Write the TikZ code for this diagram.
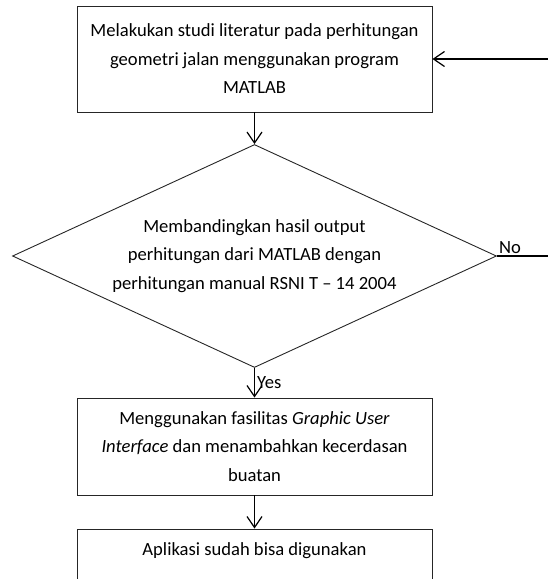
\documentclass[tikz,border=0pt]{standalone}
\usepackage{fontspec}
\setmainfont{Carlito}
\usetikzlibrary{
	shapes.geometric,   %菱形
	positioning,
	arrows.meta         %箭头
}
\tikzset{
	every picture/.style={
		>={Straight Barb[length=11pt,width=15pt,line width=1.2pt]},
		x=1pt,y=-1pt
}}
\tikzset{prosesbox/.style={rectangle,
		draw=black!85,
		line width=0.9pt,
		minimum width=355pt,
		align=center,
		font=\fontsize{18.6}{28.5}\selectfont}}
\tikzset{keputusan/.style={diamond,
		draw=black!85,
		line width=0.9pt,
		inner sep=0pt,
		aspect=2.17,
		minimum width=484pt,
		minimum height=223pt,
		align=center,
		font=\fontsize{18.6}{28.5}\selectfont}}
\tikzset{panah/.style={->,line width=1.2pt}}

\begin{document}
\begin{tikzpicture}
	\useasboundingbox (0,0) rectangle (547,579);
	\node (node001) at (254.5,59) [prosesbox,minimum height=106pt] {Melakukan studi literatur pada perhitungan\\geometri jalan menggunakan program\\MATLAB};
	\node (node002) at (254.5,256) [keputusan] {Membandingkan hasil output\\perhitungan dari MATLAB dengan\\perhitungan manual RSNI T -- 14 2004};
	\node (node003) at (254.5,446.5) [prosesbox,minimum height=97pt] {Menggunakan fasilitas \textit{Graphic User}\\\textit{Interface} dan menambahkan kecerdasan\\buatan};
	\node (node004) at (254.5,569) [prosesbox,minimum height=80pt] {};
	\node (node005) at (254.5,551) [font=\fontsize{18.6}{28.5}\selectfont] {Aplikasi sudah bisa digunakan};
	\coordinate (balik) at (570,256);
	\draw[panah] (node001.south) -- (node002.north);
	\draw[panah] (node002.south) -- node[right,font=\fontsize{18.6}{20}\selectfont,inner sep=2pt] {Yes} (node003.north);
	\draw[panah] (node003.south) -- (node004.north);
	\draw[panah] (node002.east) -- node[pos=0,above right,font=\fontsize{18.6}{20}\selectfont,inner sep=1.5pt] {No} (balik) |- (node001.east);
\end{tikzpicture}
\end{document}
